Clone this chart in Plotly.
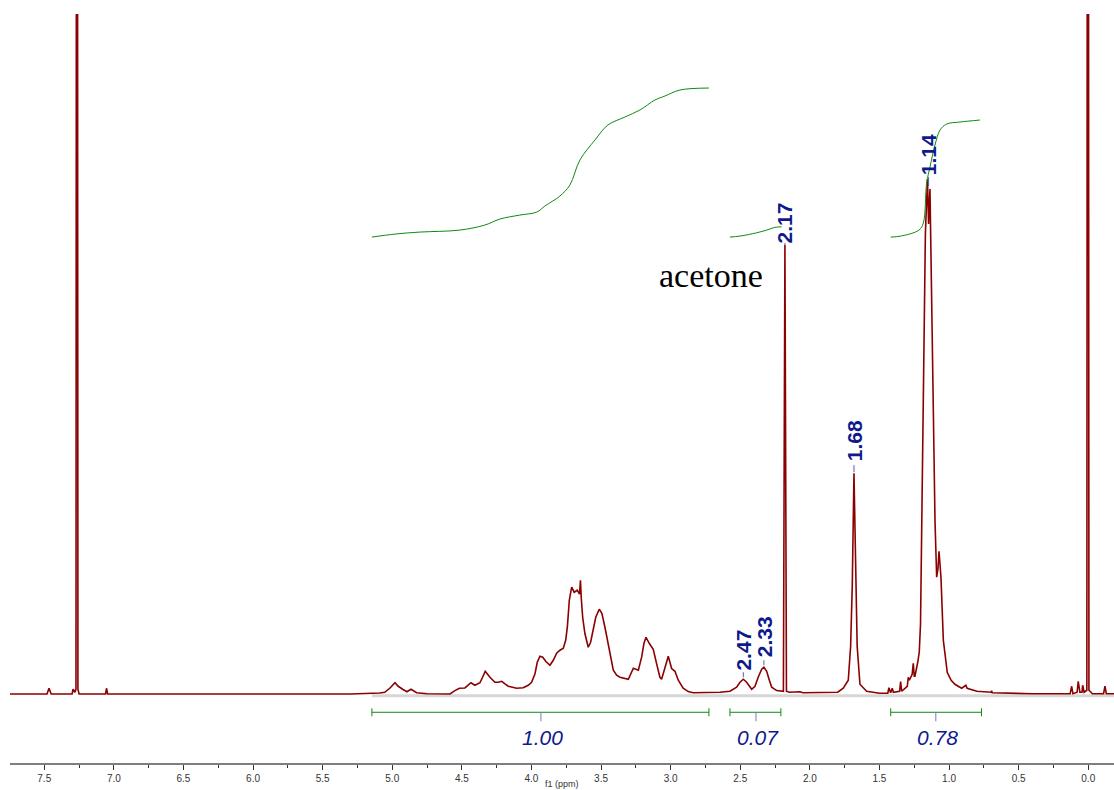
import plotly.graph_objects as go

# ---------------- data ----------------
spec_ppm = [7.75, 7.48, 7.466, 7.45, 7.30, 7.293, 7.28, 7.272, 7.265, 7.258, 7.25,
            7.06, 7.052, 7.045, 5.30, 5.15, 5.09, 5.054, 5.018, 4.98, 4.957, 4.925,
            4.895, 4.865, 4.845, 4.825, 4.75, 4.585, 4.55, 4.517, 4.478, 4.454, 4.435,
            4.406, 4.37, 4.351, 4.332, 4.298, 4.262, 4.238, 4.214, 4.19, 4.167, 4.106,
            4.059, 4.023, 3.999, 3.975, 3.958, 3.939, 3.919, 3.896, 3.867, 3.843, 3.819,
            3.795, 3.771, 3.754, 3.742, 3.728, 3.711, 3.693, 3.671, 3.655, 3.648, 3.642,
            3.632, 3.616, 3.592, 3.575, 3.556, 3.538, 3.513, 3.494, 3.472, 3.447, 3.412,
            3.388, 3.364, 3.304, 3.280, 3.268, 3.232, 3.208, 3.192, 3.177, 3.153, 3.125,
            3.101, 3.077, 3.065, 3.041, 3.017, 2.993, 2.969, 2.945, 2.91, 2.874, 2.838,
            2.646, 2.574, 2.526, 2.502, 2.478, 2.454, 2.418, 2.394, 2.371, 2.346, 2.33,
            2.31, 2.291, 2.274, 2.238, 2.19, 2.179, 2.168, 2.148, 2.07, 2.05, 1.80,
            1.76, 1.724, 1.707, 1.700, 1.695, 1.683, 1.671, 1.666, 1.66, 1.64, 1.592,
            1.50, 1.44, 1.432, 1.42, 1.408, 1.40, 1.355, 1.348, 1.34, 1.30, 1.293,
            1.285, 1.265, 1.257, 1.25, 1.245, 1.225, 1.214, 1.205, 1.197, 1.185, 1.17,
            1.155, 1.147, 1.137, 1.125, 1.11, 1.101, 1.089, 1.08, 1.072, 1.064, 1.058,
            1.041, 1.013, 0.985, 0.958, 0.909, 0.885, 0.879, 0.87, 0.85, 0.80, 0.70,
            0.694, 0.69, 0.40, 0.13, 0.119, 0.11, 0.08, 0.072, 0.06, 0.045, 0.04,
            0.03, 0.01, 0.003, -0.005, -0.03, -0.11, -0.12, -0.13, -0.19]
spec_int = [0.3, 0.3, 6, 0.3, 0.3, 5, 2, 5, 2000, 5, 0.3,
            0.3, 6, 0.3, 0.3, 0.8, 1.2, 2, 6, 11.5, 8, 5,
            2.5, 5, 3, 1.5, 0.5, 0.3, 3.7, 6, 6.3, 9, 11.5,
            9, 11.5, 17, 23, 17, 12, 12, 13, 10.3, 8, 6,
            6.5, 9, 12, 20.3, 32, 38, 37, 32.7, 29, 34, 41,
            44, 46, 54, 67.3, 94, 107, 102, 104, 100, 114, 96,
            77, 60.7, 47, 52, 67, 77, 85, 81, 67, 50, 24,
            19, 17, 15, 22.3, 26, 24, 37.3, 50.7, 57, 50.7, 45,
            30.7, 17, 15, 27, 38, 25.7, 23, 14, 6, 2.7, 1.5,
            2, 3, 7, 12, 15, 12, 5, 8, 17, 25, 27,
            23, 14, 7, 3.7, 3, 449, 3, 2, 2.5, 1.5, 2,
            6, 14, 48, 75, 110, 221, 110, 75, 48, 10, 3,
            1, 1, 6.6, 1.5, 6, 2, 3, 12.7, 3, 8, 17,
            14, 20, 31, 18, 18, 32, 42, 70, 150, 300, 460,
            515, 470, 505, 400, 230, 174, 117, 125, 143, 130, 117,
            54, 22, 14, 10, 6, 8, 9, 6, 5, 3, 2,
            3.5, 1.5, 0.5, 0.5, 8, 0.5, 2, 13, 2, 2, 9,
            2, 4, 2000, 4, 0.5, 0.5, 8, 0.5, 0.5]

# integral curves
int1_ppm = [5.146, 4.981, 4.802, 4.515, 4.335, 4.227, 4.084, 3.962, 3.904, 3.796,
            3.724, 3.652, 3.544, 3.451, 3.329, 3.221, 3.113, 3.041, 2.934, 2.725]
int1_val = [457, 460, 462, 464, 469, 475, 479, 482, 488, 498,
            509, 534, 554, 569, 577, 584, 594, 598, 604, 606]
int2_ppm = [2.574, 2.502, 2.382, 2.310, 2.251, 2.203]
int2_val = [457, 458, 461.3, 464, 466.7, 467.3]
int3_ppm = [1.419, 1.347, 1.216, 1.185, 1.161, 1.137, 1.101, 1.065, 1.017, 0.922, 0.778]
int3_val = [457, 458, 464, 471, 511, 527, 549, 564, 570, 572, 574]

# integration ranges and values
range_start = [5.146, 2.574, 1.419]
range_end = [2.725, 2.208, 0.767]
range_mark = [3.932, 2.387, 1.095]
range_label = ["1.00", "0.07", "0.78"]
range_label_ppm = [3.919, 2.374, 1.084]

# peak picking labels
peak_text = ["2.47", "2.33", "2.17", "1.68", "1.14"]
peak_ppm = [2.478, 2.330, 2.179, 1.683, 1.147]
peak_label_center = [44, 58, 471.5, 254, 539.5]
peak_tick_top = [22, 34, 451, 229, 517]
peak_tick_bottom = [17, 29, 449, 222, 508]

# axis
tick_vals = [7.5, 7.0, 6.5, 6.0, 5.5, 5.0, 4.5, 4.0, 3.5, 3.0, 2.5, 2.0, 1.5, 1.0, 0.5, 0.0]
tick_text = ["7.5", "7.0", "6.5", "6.0", "5.5", "5.0", "4.5", "4.0", "3.5", "3.0",
             "2.5", "2.0", "1.5", "1.0", "0.5", "0.0"]
x_range = [7.746, -0.185]
y_range = [-68.7, 680]

baseline_ppm = [5.146, -0.185]
baseline_val = [-1.5, -1.5]

# levels for integration bracket
bracket_level = -18
bracket_cap = 4
mark_low = -27
range_label_level = -43.7

# ---------------- figure ----------------
RED = "#8b0000"
GREEN = "#118811"
NAVY = "#0d1a8c"

fig = go.Figure()
fig.add_trace(go.Scatter(x=baseline_ppm, y=baseline_val, mode="lines",
                         line=dict(color="#d6d6d6", width=3), hoverinfo="skip"))
fig.add_trace(go.Scatter(x=spec_ppm, y=spec_int, mode="lines",
                         line=dict(color=RED, width=1.6), hoverinfo="skip"))
for xs, ys in [(int1_ppm, int1_val), (int2_ppm, int2_val), (int3_ppm, int3_val)]:
    fig.add_trace(go.Scatter(x=xs, y=ys, mode="lines", line=dict(color=GREEN, width=1, shape="spline"),
                             hoverinfo="skip"))

shapes = []
annotations = []
for s, e, m, lab, lp in zip(range_start, range_end, range_mark, range_label, range_label_ppm):
    shapes.append(dict(type="line", xref="x", yref="y", x0=s, x1=e, y0=bracket_level, y1=bracket_level,
                       line=dict(color=GREEN, width=1)))
    for xv in (s, e):
        shapes.append(dict(type="line", xref="x", yref="y", x0=xv, x1=xv,
                           y0=bracket_level - bracket_cap, y1=bracket_level + bracket_cap,
                           line=dict(color=GREEN, width=1)))
    shapes.append(dict(type="line", xref="x", yref="y", x0=m, x1=m, y0=bracket_level, y1=mark_low,
                       line=dict(color="#7a7ab8", width=1)))
    annotations.append(dict(x=lp, y=range_label_level, xref="x", yref="y", text="<i>" + lab + "</i>",
                            showarrow=False, xanchor="center", yanchor="middle",
                            font=dict(family="Liberation Sans, Arial", size=21, color=NAVY)))

for t, p, c, tt, tb in zip(peak_text, peak_ppm, peak_label_center, peak_tick_top, peak_tick_bottom):
    annotations.append(dict(x=p, y=c, xref="x", yref="y", text="<b>" + t + "</b>", showarrow=False,
                            textangle=-90, xanchor="center", yanchor="middle",
                            font=dict(family="Liberation Sans, Arial", size=21, color=NAVY)))
    shapes.append(dict(type="line", xref="x", yref="y", x0=p, x1=p, y0=tb, y1=tt,
                       line=dict(color="#5a5aa8", width=1)))

annotations.append(dict(x=2.707, y=419, xref="x", yref="y", text="acetone", showarrow=False,
                        xanchor="center", yanchor="middle",
                        font=dict(family="Liberation Serif, Times New Roman", size=34, color="black")))
annotations.append(dict(x=0.5, y=-0.028, xref="paper", yref="paper", text="f1 (ppm)", showarrow=False,
                        xanchor="center", yanchor="middle",
                        font=dict(family="Liberation Sans, Arial", size=9, color="#333333")))

fig.update_layout(
    width=1114, height=790,
    margin=dict(l=10, r=0, t=14, b=27),
    paper_bgcolor="white", plot_bgcolor="white",
    showlegend=False,
    shapes=shapes, annotations=annotations,
    xaxis=dict(range=x_range, showgrid=False, zeroline=False, showline=True,
               linecolor="#7f7f7f", linewidth=2, ticks="outside", ticklen=5, tickwidth=1,
               tickcolor="#333333", tickvals=tick_vals, ticktext=tick_text,
               tickfont=dict(family="Liberation Sans, Arial", size=10, color="#333333"),
               minor=dict(ticks="outside", ticklen=3, tickwidth=1, tickcolor="#333333", dtick=0.25,
                          tick0=0, showgrid=False),
               automargin=False),
    yaxis=dict(range=y_range, visible=False, automargin=False),
)

fig.write_html("out.html")
